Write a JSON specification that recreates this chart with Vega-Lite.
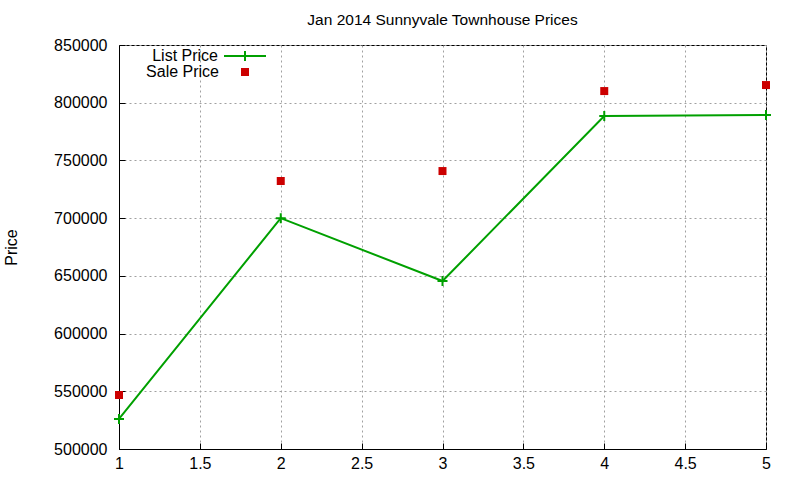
{
  "$schema": "https://vega.github.io/schema/vega-lite/v6.json",
  "width": 647,
  "height": 404,
  "autosize": {"type": "none"},
  "padding": {"left": 119, "top": 45, "right": 34, "bottom": 31},
  "background": "white",
  "title": {"text": "Jan 2014 Sunnyvale Townhouse Prices", "fontSize": 15.5, "fontWeight": "normal", "font": "Liberation Sans", "color": "black", "offset": 6},
  "config": {
    "font": "Liberation Sans",
    "view": {"stroke": "black", "strokeWidth": 1},
    "axis": {
      "labelFont": "Liberation Sans", "labelFontSize": 16, "labelColor": "black",
      "titleFont": "Liberation Sans", "titleFontSize": 16, "titleFontWeight": "normal", "titleColor": "black",
      "domainColor": "black", "tickColor": "black", "tickSize": -6, "tickWidth": 1,
      "gridColor": "#a0a0a0", "gridDash": [2, 3], "gridWidth": 1, "gridOpacity": 1
    },
    "legend": {"labelFont": "Liberation Sans", "labelFontSize": 16, "labelColor": "black", "padding": 0, "labelAlign": "right"}
  },
  "data": {"values": [
    {"x": 1, "price": 526000, "series": "List Price"},
    {"x": 2, "price": 700000, "series": "List Price"},
    {"x": 3, "price": 645500, "series": "List Price"},
    {"x": 4, "price": 788500, "series": "List Price"},
    {"x": 5, "price": 789400, "series": "List Price"},
    {"x": 1, "price": 546800, "series": "Sale Price"},
    {"x": 2, "price": 732200, "series": "Sale Price"},
    {"x": 3, "price": 740800, "series": "Sale Price"},
    {"x": 4, "price": 810100, "series": "Sale Price"},
    {"x": 5, "price": 815300, "series": "Sale Price"}
  ]},
  "encoding": {
    "x": {"field": "x", "type": "quantitative", "scale": {"domain": [1, 5], "nice": false, "zero": false},
      "axis": {"values": [1, 1.5, 2, 2.5, 3, 3.5, 4, 4.5, 5], "format": "~g", "title": null, "labelPadding": 12, "labelFlush": false, "labelOverlap": false}},
    "y": {"field": "price", "type": "quantitative", "scale": {"domain": [500000, 850000], "nice": false, "zero": false},
      "axis": {"values": [500000, 550000, 600000, 650000, 700000, 750000, 800000, 850000], "title": "Price", "labelPadding": 18, "titlePadding": 34, "format": "d", "labelFlush": false, "labelOverlap": false}}
  },
  "layer": [
    {
      "transform": [{"filter": "datum.series === 'List Price'"}],
      "mark": {"type": "line", "strokeWidth": 2},
      "encoding": {
        "stroke": {"field": "series", "type": "nominal",
          "scale": {"domain": ["List Price"], "range": ["#00a000"]},
          "legend": {"title": null, "orient": "none", "legendX": 104, "legendY": -11,
            "symbolType": "M-1,0H1M0,-0.24V0.24", "symbolSize": 1764, "symbolStrokeWidth": 2, "symbolStrokeColor": "#00a000",
            "labelOffset": -49}}
      }
    },
    {
      "transform": [{"filter": "datum.series === 'List Price'"}],
      "mark": {"type": "point", "shape": "M-1,0H1M0,-1V1", "size": 100, "filled": false, "stroke": "#00a000", "strokeWidth": 2, "opacity": 1}
    },
    {
      "transform": [{"filter": "datum.series === 'Sale Price'"}],
      "mark": {"type": "point", "shape": "square", "size": 64, "filled": true, "opacity": 1},
      "encoding": {
        "fill": {"field": "series", "type": "nominal",
          "scale": {"domain": ["Sale Price"], "range": ["#cc0000"]},
          "legend": {"title": null, "orient": "none", "legendX": 118, "legendY": 19,
            "symbolType": "square", "symbolSize": 64, "symbolOpacity": 1, "symbolStrokeWidth": 0,
            "labelOffset": -34}}
      }
    }
  ]
}
